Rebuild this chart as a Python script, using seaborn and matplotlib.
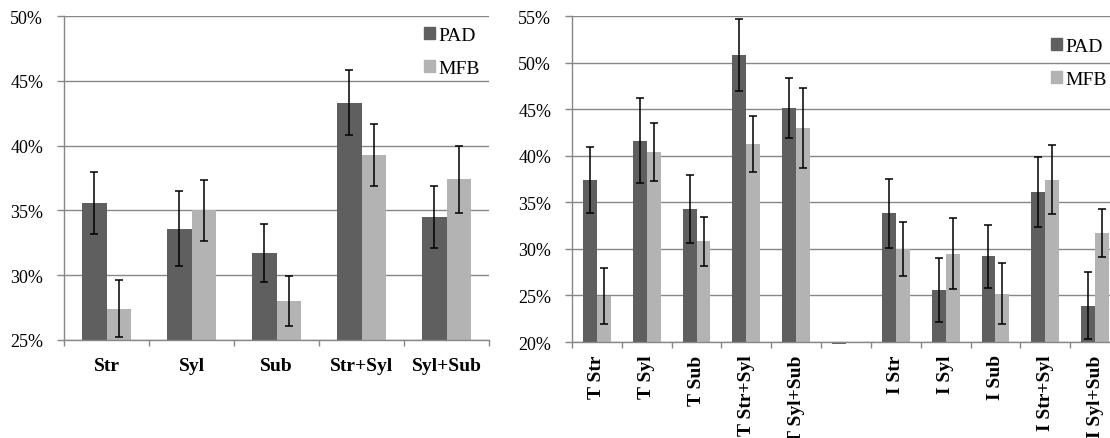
import numpy as np
import pandas as pd
import matplotlib
matplotlib.use("Agg")
import matplotlib.pyplot as plt
import matplotlib.patches as mpatches
from matplotlib.ticker import PercentFormatter
import seaborn as sns

# === data ===
left_cats = ["Str", "Syl", "Sub", "Str+Syl", "Syl+Sub"]
left_pad = [0.356, 0.336, 0.317, 0.433, 0.345]
left_mfb = [0.274, 0.350, 0.280, 0.393, 0.374]
left_pad_err = [0.024, 0.029, 0.0225, 0.025, 0.024]
left_mfb_err = [0.022, 0.0235, 0.019, 0.024, 0.026]

right_cats = ["T Str", "T Syl", "T Sub", "T Str+Syl", "T Syl+Sub", " ",
              "I Str", "I Syl", "I Sub", "I Str+Syl", "I Syl+Sub"]
right_pad = [0.374, 0.416, 0.343, 0.508, 0.451, 0.1975,
             0.338, 0.256, 0.292, 0.361, 0.239]
right_mfb = [0.249, 0.404, 0.308, 0.413, 0.430, np.nan,
             0.300, 0.295, 0.252, 0.374, 0.317]
right_pad_err = [0.035, 0.0455, 0.0365, 0.0385, 0.032, np.nan,
                 0.0375, 0.034, 0.034, 0.038, 0.036]
right_mfb_err = [0.030, 0.031, 0.026, 0.030, 0.043, np.nan,
                 0.029, 0.038, 0.033, 0.037, 0.026]

series = ["PAD", "MFB"]
colors = {"PAD": "#5f5f5f", "MFB": "#b3b3b3"}
grid_c = "#878787"

plt.rcParams["font.family"] = ["Liberation Serif", "DejaVu Serif"]

W, H = 1110, 439
fig = plt.figure(figsize=(W / 100, H / 100), dpi=100)


def panel(rect, cats, pad, mfb, pad_err, mfb_err, base, top, width, rot, xpad):
    ax = fig.add_axes(rect)
    df = pd.DataFrame({
        "cat": cats * 2,
        "method": ["PAD"] * len(cats) + ["MFB"] * len(cats),
        "val": list(pad) + list(mfb),
    })
    # bars start from the axis floor like the original
    df["h"] = df["val"] - base
    sns.barplot(data=df, x="cat", y="h", hue="method", order=cats,
                hue_order=series, palette=colors, width=width,
                errorbar=None, bottom=base, linewidth=0, clip_on=False,
                legend=False, ax=ax)
    n = len(cats)
    xs = np.arange(n)
    for k, (vals, errs) in enumerate([(pad, pad_err), (mfb, mfb_err)]):
        off = (k - 0.5) * width / 2
        ax.errorbar(xs + off, vals, yerr=errs, fmt="none", ecolor="black",
                    elinewidth=1.1, capsize=3, capthick=1.1, zorder=5)
    ax.set_ylim(base, top)
    ax.set_xlim(-0.5, n - 0.5)
    ax.set_yticks(np.arange(base, top + 0.001, 0.05))
    ax.yaxis.set_major_formatter(PercentFormatter(1.0, decimals=0))
    ax.yaxis.grid(True, color=grid_c, lw=1)
    ax.set_axisbelow(True)
    ax.set_xticks(xs)
    ax.set_xticklabels(cats, fontweight="bold", fontsize=14, rotation=rot)
    ax.set_xticks(np.arange(n + 1) - 0.5, minor=True)
    ax.tick_params(axis="x", which="major", length=0, pad=xpad)
    ax.tick_params(axis="x", which="minor", length=4, color=grid_c, width=1)
    ax.tick_params(axis="y", length=5, color=grid_c, width=1, labelsize=13,
                   pad=10)
    ax.set_xlabel("")
    ax.set_ylabel("")
    for s in ["top", "right"]:
        ax.spines[s].set_visible(False)
    for s in ["left", "bottom"]:
        ax.spines[s].set_color(grid_c)
        ax.spines[s].set_linewidth(1)
    return ax


ax1 = panel([64 / W, (H - 341) / H, 425 / W, 324 / H], left_cats,
            left_pad, left_mfb, left_pad_err, left_mfb_err,
            0.25, 0.50, 0.565, 0, 12)
ax2 = panel([572 / W, (H - 343) / H, 548 / W, 326 / H], right_cats,
            right_pad, right_mfb, right_pad_err, right_mfb_err,
            0.20, 0.55, 0.56, 90, 9)

handles = [mpatches.Patch(color=colors[s], label=s) for s in series]
for ax, (lx, ly) in [(ax1, (424, 28)), (ax2, (1051, 39))]:
    ax.legend(handles=handles, loc="upper left",
              bbox_to_anchor=(lx / W, 1 - ly / H),
              bbox_transform=fig.transFigure, frameon=False, fontsize=14,
              handlelength=0.55, handleheight=0.55, handletextpad=0.2,
              labelspacing=0.8, borderpad=0, borderaxespad=0)

fig.savefig("out.png", dpi=100)
